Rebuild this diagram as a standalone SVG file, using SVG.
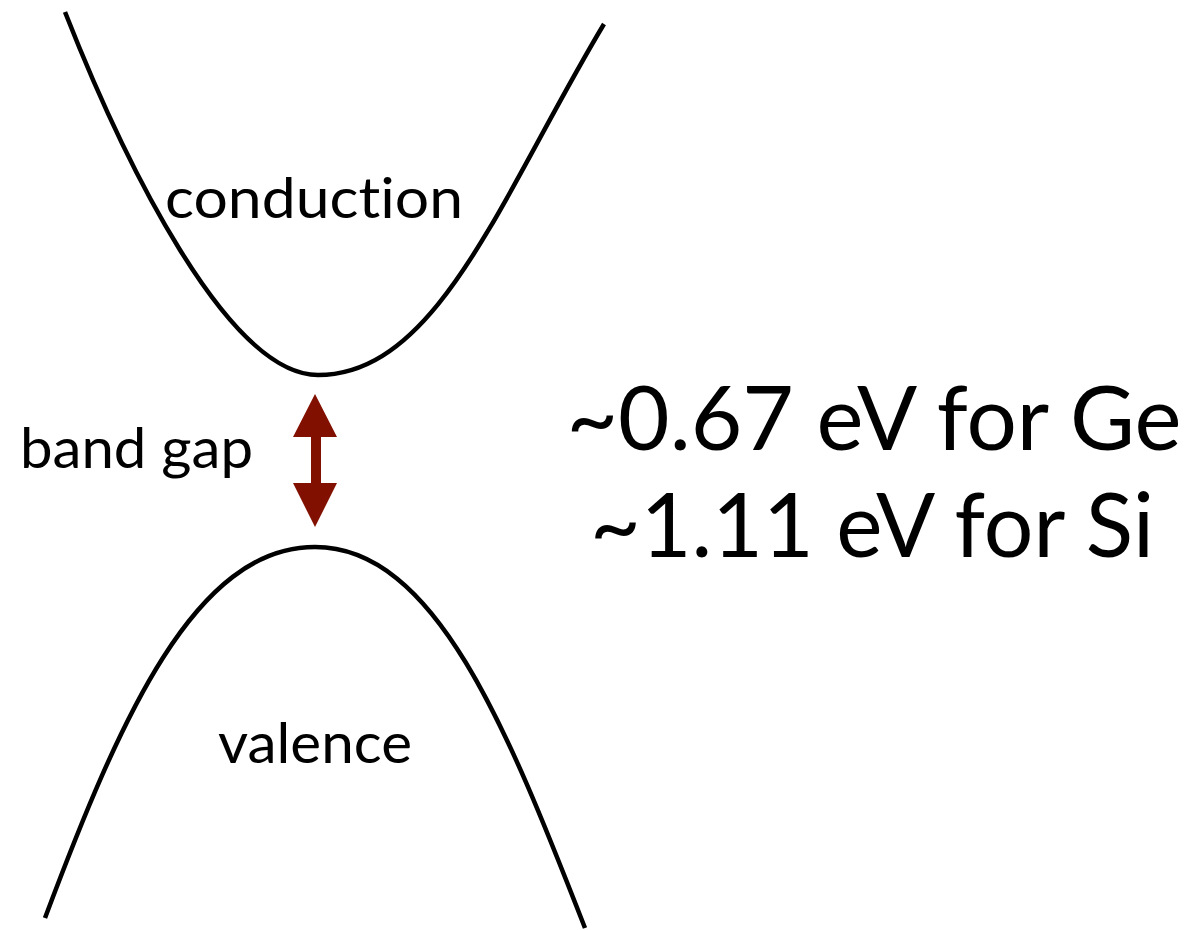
<svg xmlns="http://www.w3.org/2000/svg" width="1195" height="930" viewBox="0 0 1195 930">
<style>
.band{fill:none;stroke:#000;stroke-width:4.5;stroke-linecap:butt}
.lbl{font-family:Lato,"Open Sans","Liberation Sans",sans-serif;fill:#000;font-variant-ligatures:none;font-feature-settings:"liga" 0}
.arrow{fill:#821000}
</style>
<rect width="1195" height="930" fill="#fff"/>
<g id="conduction">
<path class="band" d="M65,12 C124,162 228,375 318,375 C438,375 502,194 604,24"/>
<text class="lbl" x="314" y="218" font-size="56" text-anchor="middle" textLength="298" lengthAdjust="spacingAndGlyphs">conduction</text>
</g>
<g id="valence">
<path class="band" d="M45,918 C120,718 195,547 315,547 C435,547 507,728 585,928"/>
<text class="lbl" x="315" y="763" font-size="56" text-anchor="middle" textLength="194" lengthAdjust="spacingAndGlyphs">valence</text>
</g>
<g id="band-gap-label">
<text class="lbl" x="20" y="468" font-size="56" textLength="233" lengthAdjust="spacingAndGlyphs">band gap</text>
</g>
<g id="connectors">
<polygon class="arrow" points="315,394 337,437 321,437 321,483 337,483 315,527 293,483 311,483 311,437 293,437"/>
</g>
<g id="values">
<text class="lbl" x="874" y="450" font-size="90" text-anchor="middle" textLength="615" lengthAdjust="spacingAndGlyphs">~0.67 eV for Ge</text>
<text class="lbl" x="872" y="557" font-size="90" text-anchor="middle" textLength="564" lengthAdjust="spacingAndGlyphs">~1.11 eV for Si</text>
</g>
</svg>
